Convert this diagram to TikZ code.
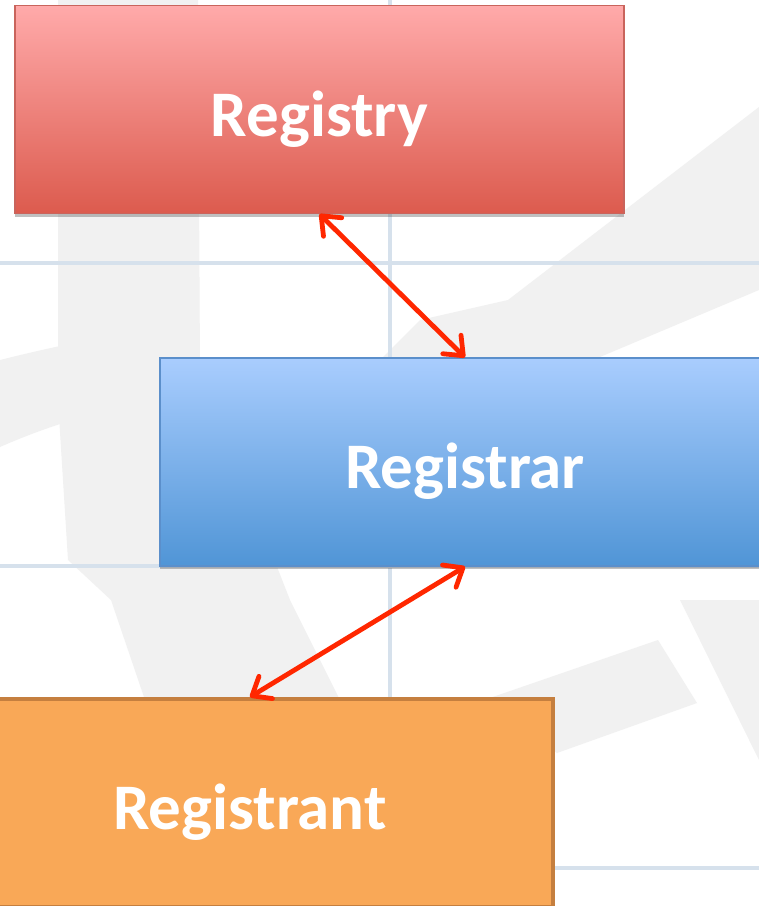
\documentclass[tikz,border=0pt]{standalone}
\usepackage{fontspec}
\setmainfont{Carlito}
\usetikzlibrary{arrows.meta,shadows}
\definecolor{gridc}{HTML}{D6E1EC}
\definecolor{wmark}{HTML}{F1F1F1}
\definecolor{redtop}{HTML}{FFAAAA}
\definecolor{redbot}{HTML}{DC5B4E}
\definecolor{redline}{HTML}{C9645C}
\definecolor{bluetop}{HTML}{A9CDFE}
\definecolor{bluebot}{HTML}{5095D6}
\definecolor{blueline}{HTML}{5B8FCB}
\definecolor{orfill}{HTML}{F9A857}
\definecolor{orline}{HTML}{C57F3F}
\definecolor{arrowred}{HTML}{FF2700}
\tikzset{
  boxbase/.style={rectangle, inner sep=0pt, minimum height=208pt,
    text height=53pt, text depth=0pt,
    text=white, font=\fontsize{65}{65}\selectfont\bfseries,
    drop shadow={shadow xshift=0pt, shadow yshift=-3pt, opacity=0.35, fill=black!70}},
  registrybox/.style={boxbase, minimum width=609pt, top color=redtop, bottom color=redbot, draw=redline, line width=1.2pt},
  registrarbox/.style={boxbase, minimum width=610pt, top color=bluetop, bottom color=bluebot, draw=blueline, line width=1.2pt},
  registrantbox/.style={boxbase, minimum width=606pt, fill=orfill, draw=orline, line width=4pt},
  link/.style={draw=arrowred, line width=4.8pt, line cap=round,
    {Straight Barb[length=16pt,width=26pt,line width=4.8pt,round]}-{Straight Barb[length=16pt,width=26pt,line width=4.8pt,round]}},
  gridline/.style={draw=gridc, line width=4pt},
  wm/.style={fill=wmark, draw=none}
}
\begin{document}
\begin{tikzpicture}[x=1pt,y=-1pt]
\useasboundingbox (0,0) rectangle (759,906);
\clip (0,0) rectangle (759,906);
\fill[white] (0,0) rectangle (759,906);
% watermark shapes
\fill[wm] (58,0) -- (198,0) -- (200,370) -- (290,600) -- (340,700) -- (145,700) -- (111,600) -- (68,560) -- (58,400) -- cycle;
\fill[wm] (0,360) .. controls (60,345) and (110,335) .. (160,330) -- (160,400) .. controls (100,410) and (50,425) .. (0,447) -- cycle;
\fill[wm] (759,107) -- (759,290) -- (600,357) -- (383,357) -- (420,320) -- (508,300) -- cycle;
\fill[wm] (484,700) -- (658,640) -- (697,703) -- (557,753) -- cycle;
\fill[wm] (680,600) -- (759,600) -- (759,760) -- cycle;
% grid lines
\draw[gridline] (390,0) -- (390,906);
\draw[gridline] (0,263) -- (759,263);
\draw[gridline] (0,566) -- (759,566);
\draw[gridline] (0,868) -- (759,868);
% boxes
\node[registrybox] (registry) at (319.5,109.5) {Registry};
\node[registrarbox] (registrar) at (465,462) {Registrar};
\node[registrantbox] (registrant) at (250,803) {Registrant};
% connectors
\draw[link] (registry.south) -- (registrar.north);
\draw[link] (registrar.south) -- (registrant.north);
\end{tikzpicture}
\end{document}
